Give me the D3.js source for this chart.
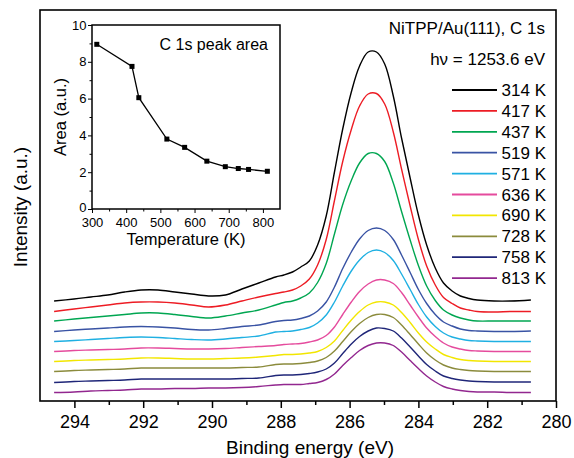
<!DOCTYPE html>
<html><head><meta charset="utf-8">
<script src="https://cdn.jsdelivr.net/npm/d3@7"></script>
<style>
body{margin:0;background:#fff;}
svg{display:block;}
text{font-family:"Liberation Sans",Arial,Helvetica,sans-serif;fill:#000;}
</style>
</head><body>
<svg id="chart" width="574" height="458"></svg>
<script>
// ---- data (binding energy in eV, intensity in a.u.) ----
const energies = [294.59,294.01,293.52,293.03,292.54,292.06,291.57,291.08,290.59,290.10,289.61,289.13,288.64,
  288.15,287.91,287.66,287.42,287.17,286.93,286.68,286.44,286.20,285.95,285.71,285.46,285.22,284.98,284.73,
  284.49,284.24,284.00,283.76,283.51,283.27,283.02,282.78,282.53,282.29,281.80,281.31,280.73];

const temperatureLabels = ["314 K","417 K","437 K","519 K","571 K","636 K","690 K","728 K","758 K","813 K"];

const spectrum314 = [100,102,104,106,109,111,111,109,107,105,106,112,118,
  124,126,129,134,140,156,185,229,272,309,335,349,349,337,305,263,223,186,156,133,118,110,105,102.5,101,
  100,100,101];
const spectrum417 = [89.5,92,94,96,98,99,99,98,96,94,96,100,104,
  107.5,109,111,115,122,136,161.5,200.5,239.5,271.5,295,307,307.5,297,269,232,195,161.5,135,116,103.5,97.5,93,91,89.5,
  89,89.5,89.5];
const spectrum437 = [80,82,83.5,85,86.5,88,88,86.5,84.5,83,85,88,91,
  96,98.5,100,103,108,118.5,137.5,167,196.5,220.5,238,247.5,247.5,239.5,218,189.5,161,135.5,115,100.5,91,86,83,81,80,
  80,80,80];
const spectrum519 = [69.5,71,72,73,74,74.5,74,73,71.5,71,72.5,74.5,76,
  79.5,80.5,81,82.5,85,90,99,114,132.5,149,162,170.5,173,170.5,161.5,146,128.5,111.5,97.5,86.5,79,75,72,70.5,70,
  69.5,69.5,70];
const spectrum571 = [59.5,60.5,61.5,62.5,63.5,64,63.5,62.5,61.5,61,62,63.5,65,
  69,69.5,70,71.5,73.5,78,86,99,115,130,141,148.5,151,148.5,140.5,127,111.5,96.5,84,74.5,68,64,62,60.5,60,
  59.5,59.5,59.5];
const spectrum636 = [49.5,50.5,51,51.5,52,53,53,52.5,52,52,52.5,53.5,54.5,
  55.5,56.5,57,57.5,59,61,65.5,74,86.5,99,109.5,117,121,121,117.5,108.5,96,84,73,64.5,58,54,52,50.5,50,
  49.5,49.5,49.5];
const spectrum690 = [39.5,40.5,41,41.5,42,43,43,42.5,42,42,42.5,43,44,
  45.5,46.5,46.5,47,48,49.5,53.5,60,70.5,81,89.5,96,99,99,96,88.5,78.5,68,59,52,46.5,43.5,41.5,40.5,40,
  39.5,39.5,39.5];
const spectrum728 = [29.5,30.5,31,31.5,32,33,33,33,33,33,33,33.5,34,
  36.5,37,37,37.5,38.5,40,43.5,50,59.5,69.5,77.5,83.5,86.5,86.5,83.5,76,66.5,57,48,41,36,33,31.5,30.5,30,
  29.5,29.5,29.5];
const spectrum758 = [18.5,19.5,20,20.5,21,22,22,22,22,22,22,22.5,23,
  25.5,26,26,26.5,27.5,29,32,38,47.5,57,64.5,70,73,72.5,70,63,54,45,36.5,30,25,22.5,21,20,19.5,
  19,19,19];
const spectrum813 = [8.5,9,10,10.5,11,12,12,12.5,12.5,13,13,13.5,14.5,
  16,16.5,16.5,16.5,17.5,18.5,21.5,27,35.5,43.5,50.5,55.5,58,58,55.5,49,40.5,32.5,25,19,14.5,12,10.5,9.5,9,
  9,8.5,8.5];

const xTickValues = [294,292,290,288,286,284,282,280];
const xMinorTickValues = [293,291,289,287,285,283,281];

// inset: C 1s peak area vs temperature
const insetTemperature = [314,417,437,519,571,636,690,728,758,813];
const insetArea = [8.95,7.75,6.05,3.8,3.35,2.6,2.3,2.2,2.15,2.05];
const insetXTicks = [300,400,500,600,700,800];
const insetXMinor = [350,450,550,650,750];
const insetYTicks = [0,2,4,6,8,10];
const insetYMinor = [1,3,5,7,9];

// ---- styles ----
const seriesColors = ["#000000","#ed1c24","#00a651","#3953a4","#1fb0e2","#e54b9d","#f2e600","#8b8b3c","#1f2678","#92278f"];
const allSpectra = [spectrum314,spectrum417,spectrum437,spectrum519,spectrum571,spectrum636,spectrum690,spectrum728,spectrum758,spectrum813];

const svg = d3.select("#chart");
const P = {left:40, right:556, top:10, bottom:401};

const x = d3.scaleLinear().domain([295,280]).range([P.left,P.right]);
const y = d3.scaleLinear().domain([0,391]).range([P.bottom,P.top]);

// spectra
const line = d3.line().x((d,i)=>x(energies[i])).y(d=>y(d)).curve(d3.curveCatmullRom.alpha(0.5));
svg.append("g").selectAll("path").data(allSpectra.map((s,i)=>({s,i})).reverse()).join("path")
  .attr("d",d=>line(d.s)).attr("fill","none").attr("stroke",d=>seriesColors[d.i]).attr("stroke-width",1.4);

// bottom axis
const xAxis = svg.append("g").attr("transform",`translate(0,${P.bottom})`)
  .call(d3.axisBottom(x).tickValues(xTickValues).tickSize(7).tickPadding(7).tickFormat(d3.format("d")));
xAxis.select(".domain").remove();
xAxis.selectAll("line").attr("stroke-width",1.5);
xAxis.selectAll("text").attr("font-size",18).style("font-family",'"Liberation Sans",Arial,sans-serif');
const xMinor = svg.append("g").attr("transform",`translate(0,${P.bottom})`)
  .call(d3.axisBottom(x).tickValues(xMinorTickValues).tickSize(4).tickFormat(""));
xMinor.select(".domain").remove();
xMinor.selectAll("line").attr("stroke-width",1.5);

// frame
svg.append("rect").attr("x",P.left).attr("y",P.top).attr("width",P.right-P.left).attr("height",P.bottom-P.top)
  .attr("fill","none").attr("stroke","#000").attr("stroke-width",1.6);

svg.append("text").attr("x",310).attr("y",454).attr("text-anchor","middle")
  .attr("font-size",19).text("Binding energy (eV)");
svg.append("text").attr("transform",`translate(27,207) rotate(-90)`).attr("text-anchor","middle")
  .attr("font-size",19).text("Intensity (a.u.)");

// title
svg.append("text").attr("x",545).attr("y",34).attr("text-anchor","end").attr("font-size",17).text("NiTPP/Au(111), C 1s");
svg.append("text").attr("x",545).attr("y",65).attr("text-anchor","end").attr("font-size",17).text("hν = 1253.6 eV");

// legend
const lg = svg.append("g");
temperatureLabels.forEach((t,i)=>{
  const yy = 90 + i*20.9;
  lg.append("line").attr("x1",452).attr("x2",497).attr("y1",yy).attr("y2",yy)
    .attr("stroke",seriesColors[i]).attr("stroke-width",1.8);
  lg.append("text").attr("x",546).attr("y",yy+6).attr("text-anchor","end").attr("font-size",17).text(t);
});

// ---- inset ----
const I = {left:92, right:280, top:25, bottom:209};
const ix = d3.scaleLinear().domain([300,850]).range([I.left,I.right]);
const iy = d3.scaleLinear().domain([0,10]).range([I.bottom,I.top]);
svg.append("rect").attr("x",I.left).attr("y",I.top).attr("width",I.right-I.left).attr("height",I.bottom-I.top)
  .attr("fill","#fff").attr("stroke","none");

const ixa = svg.append("g").attr("transform",`translate(0,${I.bottom})`)
  .call(d3.axisBottom(ix).tickValues(insetXTicks).tickSize(4).tickPadding(5));
ixa.select(".domain").remove();
ixa.selectAll("text").attr("font-size",13).style("font-family",'"Liberation Sans",Arial,sans-serif');
const ixm = svg.append("g").attr("transform",`translate(0,${I.bottom})`)
  .call(d3.axisBottom(ix).tickValues(insetXMinor).tickSize(2.5).tickFormat(""));
ixm.select(".domain").remove();

const iya = svg.append("g").attr("transform",`translate(${I.left},0)`)
  .call(d3.axisLeft(iy).tickValues(insetYTicks).tickSize(4).tickPadding(1.5));
iya.select(".domain").remove();
iya.selectAll("text").attr("font-size",13).style("font-family",'"Liberation Sans",Arial,sans-serif')
  .attr("dy",d=>d===0?"0.2em":"0.32em");
const iym = svg.append("g").attr("transform",`translate(${I.left},0)`)
  .call(d3.axisLeft(iy).tickValues(insetYMinor).tickSize(2.5).tickFormat(""));
iym.select(".domain").remove();
svg.selectAll(".tick line").attr("stroke","#000");

svg.append("rect").attr("x",I.left).attr("y",I.top).attr("width",I.right-I.left).attr("height",I.bottom-I.top)
  .attr("fill","none").attr("stroke","#000").attr("stroke-width",1.5);

const iline = d3.line().x((d,i)=>ix(insetTemperature[i])).y(d=>iy(d));
svg.append("path").attr("d",iline(insetArea)).attr("fill","none").attr("stroke","#000").attr("stroke-width",1.3);
svg.append("g").selectAll("rect").data(insetArea).join("rect")
  .attr("x",(d,i)=>ix(insetTemperature[i])-2.5).attr("y",d=>iy(d)-2.5).attr("width",5).attr("height",5).attr("fill","#000");

svg.append("text").attr("x",268).attr("y",50).attr("text-anchor","end").attr("font-size",16).text("C 1s peak area");
svg.append("text").attr("x",(I.left+I.right)/2).attr("y",245).attr("text-anchor","middle").attr("font-size",16.5).text("Temperature (K)");
svg.append("text").attr("transform",`translate(66,${(I.top+I.bottom)/2}) rotate(-90)`).attr("text-anchor","middle")
  .attr("font-size",16.5).text("Area (a.u.)");
</script>
</body></html>
